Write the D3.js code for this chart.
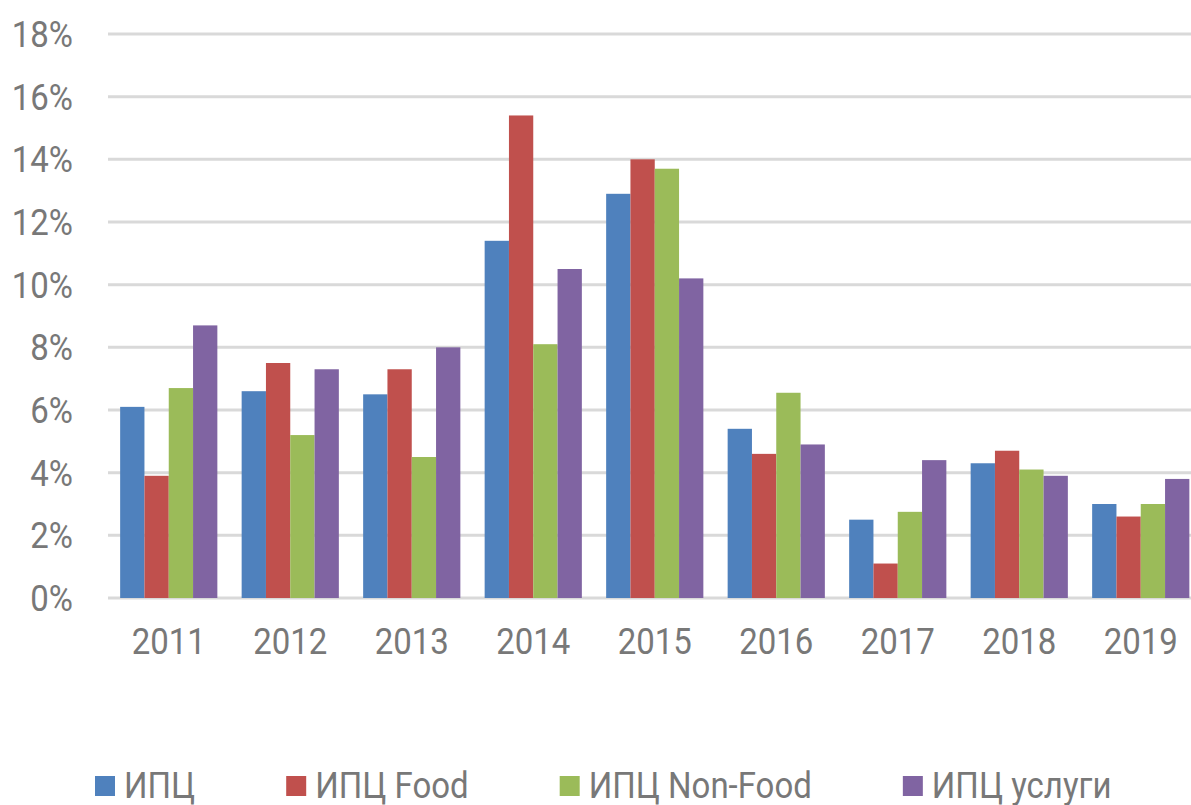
<!DOCTYPE html>
<html>
<head>
<meta charset="utf-8">
<script src="https://cdn.jsdelivr.net/npm/d3@7"></script>
<style>
  body{margin:0;background:#fff;}
  svg text{font-family:Roboto,"Noto Sans",sans-serif;fill:#787878;}
</style>
</head>
<body>
<div id="chart"></div>
<script>
// values
let years=["2011","2012","2013","2014","2015","2016","2017","2018","2019"];
let seriesNames=["ИПЦ","ИПЦ Food","ИПЦ Non-Food","ИПЦ услуги"];
let cpi=[6.1,6.6,6.5,11.4,12.9,5.4,2.5,4.3,3.0];
let cpiFood=[3.9,7.5,7.3,15.4,14.0,4.6,1.1,4.7,2.6];
let cpiNonFood=[6.7,5.2,4.5,8.1,13.7,6.55,2.75,4.1,3.0];
let cpiServices=[8.7,7.3,8.0,10.5,10.2,4.9,4.4,3.9,3.8];
let yTicks=[0,2,4,6,8,10,12,14,16,18];
let colors=["#4f81bd","#c0504d","#9bbb59","#8064a2"];

(function(){
    let width=1191,height=805;
    let allSeries=[cpi,cpiFood,cpiNonFood,cpiServices];
    let svg=d3.select("#chart").append("svg")
        .attr("width",width)
        .attr("height",height);

    //text in the picture is a little taller than wide
    function tallText(sel,x,yy){
        return sel.attr("transform","translate("+x+","+yy+") scale(1,1.1)");
    }

    let x0=d3.scaleBand()
        .domain(years)
        .range([108,1201.5])
        .paddingInner(0.2)
        .paddingOuter(0.1);
    let x1=d3.scaleBand()
        .domain(d3.range(seriesNames.length))
        .range([0,x0.bandwidth()]);
    let y=d3.scaleLinear()
        .domain([0,18])
        .range([598,34]);

    //grid lines
    svg.append("g")
        .selectAll("line")
        .data(yTicks)
        .join("line")
        .attr("x1",108)
        .attr("x2",width)
        .attr("y1",d=>y(d))
        .attr("y2",d=>y(d))
        .attr("stroke","#d9d9d9")
        .attr("stroke-width",3);

    //y labels
    svg.append("g")
        .selectAll("text")
        .data(yTicks)
        .join("text")
        .each(function(d){tallText(d3.select(this),73,y(d)+13);})
        .attr("text-anchor","end")
        .attr("font-size",33)
        .text(d=>d+"%");

    //bars
    let groups=svg.append("g")
        .selectAll("g")
        .data(years)
        .join("g")
        .attr("transform",d=>"translate("+x0(d)+",0)");
    groups.selectAll("rect")
        .data((d,i)=>allSeries.map(function(s,k){return {k:k,v:s[i]}}))
        .join("rect")
        .attr("x",d=>x1(d.k))
        .attr("width",x1.bandwidth())
        .attr("y",d=>y(d.v))
        .attr("height",d=>y(0)-y(d.v))
        .attr("fill",d=>colors[d.k]);

    //x labels
    svg.append("g")
        .selectAll("text")
        .data(years)
        .join("text")
        .each(function(d){tallText(d3.select(this),x0(d)+x0.bandwidth()/2,654);})
        .attr("text-anchor","middle")
        .attr("font-size",33)
        .text(d=>d);

    //legend
    let legend=svg.append("g");
    let lx=95;
    seriesNames.forEach(function(name,k){
        legend.append("rect")
            .attr("x",lx)
            .attr("y",776)
            .attr("width",20)
            .attr("height",20)
            .attr("fill",colors[k]);
        let t=legend.append("text")
            .attr("font-size",33)
            .text(name);
        tallText(t,lx+29,798);
        lx+=29+t.node().getComputedTextLength()+91;
    });
})();
</script>
</body>
</html>
